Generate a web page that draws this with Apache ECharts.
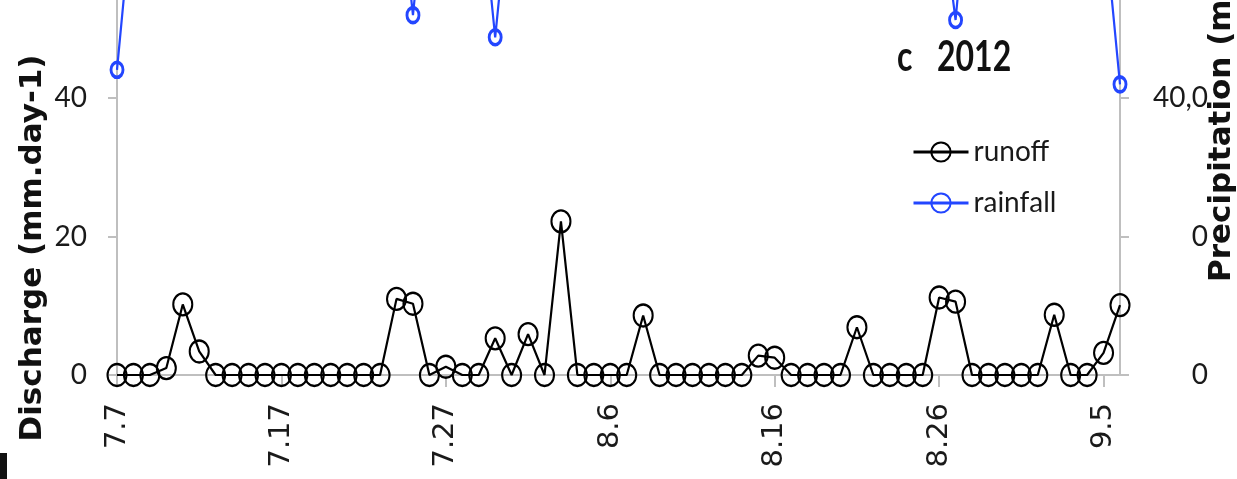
<!DOCTYPE html>
<html>
<head>
<meta charset="utf-8">
<script src="https://cdn.jsdelivr.net/npm/echarts@6/dist/echarts.min.js"></script>
<style>
html,body{margin:0;padding:0;background:#fff;}
#c{width:1237px;height:479px;}
</style>
</head>
<body>
<div id="c"></div>
<script>
var categories = ['7.7','7.8','7.9','7.10','7.11','7.12','7.13','7.14','7.15','7.16',
  '7.17','7.18','7.19','7.20','7.21','7.22','7.23','7.24','7.25','7.26',
  '7.27','7.28','7.29','7.30','7.31','8.1','8.2','8.3','8.4','8.5',
  '8.6','8.7','8.8','8.9','8.10','8.11','8.12','8.13','8.14','8.15',
  '8.16','8.17','8.18','8.19','8.20','8.21','8.22','8.23','8.24','8.25',
  '8.26','8.27','8.28','8.29','8.30','8.31','9.1','9.2','9.3','9.4',
  '9.5','9.6'];
var runoff = [0,0,0,1.0,10.2,3.4,0,0,0,0,
  0,0,0,0,0,0,0,11.0,10.3,0,
  1.2,0,0,5.3,0,5.9,0,22.2,0,0,
  0,0,8.6,0,0,0,0,0,0,2.8,
  2.5,0,0,0,0,6.9,0,0,0,0,
  11.2,10.6,0,0,0,0,0,8.7,0,0,
  3.2,10.1];
var rainfall = [35.9,10.8,0,0,0,0,0,0,0,0,
  0,0,0,0,0,0,0,6,28.0,4,
  0,0,7.4,31.2,7.4,0,0,0,0,0,
  0,0,0,0,0,0,0,0,0,0,
  0,0,0,0,0,0,0,0,0,0,
  10,28.7,3,0,0,0,0,0,0,0,
  13.2,38.0];
var leftTicks = [0,20,40,60,80];
var rightTickValues = [0,20,40,60,80];
var rightTickLabels = ['0,0','20,0','40,0','0','0'];

var chart = echarts.init(document.getElementById('c'));
var axisGray = '#bfbfbf';
chart.setOption({
  animation: false,
  backgroundColor: '#fff',
  grid: {left: 117, right: 117, top: -178.6, bottom: 104, containLabel: false, outerBoundsMode: 'none'},
  legend: {
    data: ['runoff','rainfall'], orient: 'vertical', left: 907, top: 133,
    itemWidth: 55, itemHeight: 24, itemGap: 23,
    lineStyle: {width: 3},
    textStyle: {fontFamily: 'Lato', fontSize: 28, color: '#1a1a1a'}
  },
  xAxis: {
    type: 'category', data: categories, boundaryGap: false,
    axisLine: {show: true, lineStyle: {color: axisGray, width: 2}},
    axisTick: {show: true, interval: 9, length: 12, lineStyle: {color: axisGray, width: 2}},
    axisLabel: {interval: 9, rotate: 90, margin: 28, color: '#1a1a1a', fontFamily: 'DejaVu Sans', fontSize: 29}
  },
  yAxis: [{
    type: 'value', min: 0, max: 80, interval: 20, position: 'left',
    axisLine: {show: true, lineStyle: {color: axisGray, width: 2}},
    axisTick: {show: true, length: 9, lineStyle: {color: axisGray, width: 2}},
    splitLine: {show: false},
    axisLabel: {margin: 30, color: '#1a1a1a', fontFamily: 'Lato', fontSize: 28}
  }, {
    type: 'value', min: 0, max: 80, interval: 20, position: 'right', inverse: true,
    axisLine: {show: true, lineStyle: {color: axisGray, width: 2}},
    axisTick: {show: true, length: 9, lineStyle: {color: axisGray, width: 2}},
    splitLine: {show: false},
    axisLabel: {margin: 88, align: 'right', color: '#1a1a1a', fontFamily: 'Lato', fontSize: 28,
      formatter: function (v) { var k = rightTickValues.indexOf(v); return k >= 0 ? rightTickLabels[k] : ''; }}
  }],
  series: [{
    name: 'runoff', type: 'line', data: runoff, yAxisIndex: 0,
    symbol: 'circle', symbolSize: [19, 22], showAllSymbol: true,
    lineStyle: {color: '#000', width: 2.2},
    itemStyle: {color: 'rgba(255,255,255,0)', borderColor: '#000', borderWidth: 2.2},
    z: 3
  }, {
    name: 'rainfall', type: 'line', data: rainfall, yAxisIndex: 1,
    symbol: 'circle', symbolSize: [12, 15], showAllSymbol: true,
    lineStyle: {color: '#2346ff', width: 2.2},
    itemStyle: {color: 'rgba(255,255,255,0)', borderColor: '#2346ff', borderWidth: 3.2},
    z: 4
  }],
  graphic: [{
    type: 'text', x: 33, y: 248, rotation: Math.PI / 2,
    style: {text: 'Discharge (mm.day-1)', fontFamily: 'DejaVu Sans', fontWeight: 'bold', fontSize: 31,
      fill: '#111', textAlign: 'center', textVerticalAlign: 'middle', align: 'center', verticalAlign: 'middle'}
  }, {
    type: 'text', x: 1222, y: 282, rotation: Math.PI / 2,
    style: {text: 'Precipitation (mm)', fontFamily: 'DejaVu Sans', fontWeight: 'bold', fontSize: 31,
      fill: '#111', textAlign: 'left', textVerticalAlign: 'middle', align: 'left', verticalAlign: 'middle'}
  }, {
    type: 'text', x: 897, y: 58, scaleY: 1.3,
    style: {text: 'c', fontFamily: 'Lato', fontWeight: 'bold', fontSize: 32, fill: '#111',
      textAlign: 'left', textVerticalAlign: 'middle', align: 'left', verticalAlign: 'middle'}
  }, {
    type: 'text', x: 937, y: 58, scaleY: 1.3,
    style: {text: '2012', fontFamily: 'Lato', fontWeight: 'bold', fontSize: 32, fill: '#111',
      textAlign: 'left', textVerticalAlign: 'middle', align: 'left', verticalAlign: 'middle'}
  }, {
    type: 'rect', shape: {x: 0, y: 453, width: 7, height: 26}, style: {fill: '#111'}
  }]
});
</script>
</body>
</html>
